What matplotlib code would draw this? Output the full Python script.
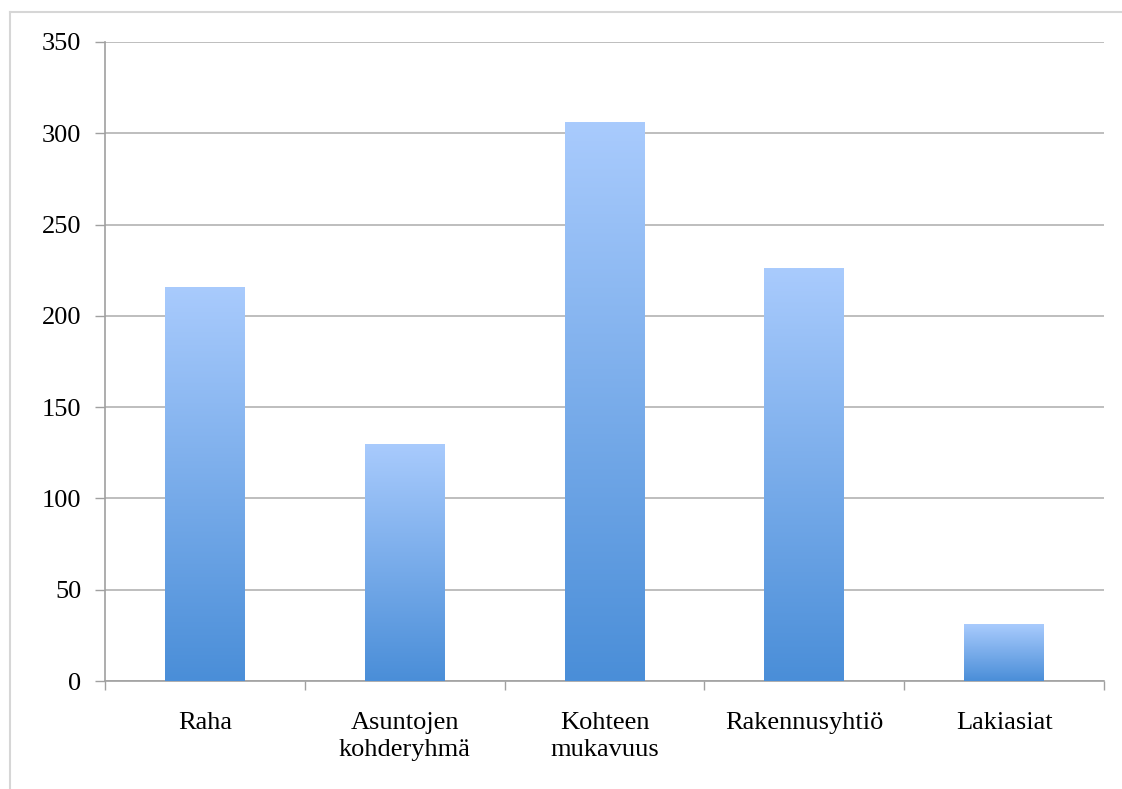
import numpy as np
import matplotlib.pyplot as plt
from matplotlib.colors import LinearSegmentedColormap
from matplotlib.lines import Line2D

# Data
kategoriat = ['Raha', 'Asuntojen\nkohderyhmä', 'Kohteen\nmukavuus', 'Rakennusyhtiö', 'Lakiasiat']
arvot = [216, 130, 306, 226, 31]
y_ticks = [0, 50, 100, 150, 200, 250, 300, 350]

plt.rcParams['font.family'] = ['Liberation Serif', 'DejaVu Serif']

fig = plt.figure(figsize=(11.22, 7.89), dpi=100)
ax = fig.add_axes([105 / 1122, 1 - 681 / 789, 999 / 1122, 639 / 789])

x = np.arange(len(kategoriat))
bars = ax.bar(x, arvot, width=0.4, color='none', edgecolor='none', zorder=3)

# gradient fill for each bar (dark at bottom, light at top)
cmap = LinearSegmentedColormap.from_list('grad', ['#4a8ed8', '#a9cbfd'])
grad = np.linspace(0, 1, 256).reshape(-1, 1)
for b in bars:
    x0, w, h = b.get_x(), b.get_width(), b.get_height()
    im = ax.imshow(grad, cmap=cmap, origin='lower', aspect='auto',
                   extent=[x0, x0 + w, 0, h], zorder=3)
    im.set_clip_path(b)

ax.set_xlim(-0.5, len(kategoriat) - 0.5)
ax.set_ylim(0, 350)
ax.set_yticks(y_ticks)
ax.yaxis.grid(True, color='#b3b3b3', linewidth=1.2, zorder=0)
ax.set_axisbelow(True)

ax.set_xticks(x)
ax.set_xticklabels(kategoriat, fontsize=19, linespacing=1.3, va='top')
ax.set_xticks(np.arange(-0.5, len(kategoriat)), minor=True)
ax.tick_params(axis='x', which='major', length=0, pad=22)
ax.tick_params(axis='x', which='minor', length=6.5, color='#a0a0a0', width=1)
ax.tick_params(axis='y', length=7, color='#a0a0a0', width=1, labelsize=19, pad=10)

for s in ['top', 'right']:
    ax.spines[s].set_visible(False)
for s in ['left', 'bottom']:
    ax.spines[s].set_color('#a0a0a0')
    ax.spines[s].set_linewidth(1.2)

# light frame around the chart area (top and left edges)
fig.add_artist(Line2D([10 / 1122, 1], [1 - 12 / 789, 1 - 12 / 789],
                      transform=fig.transFigure, color='#d6d6d6', linewidth=1.5))
fig.add_artist(Line2D([10 / 1122, 10 / 1122], [0, 1 - 12 / 789],
                      transform=fig.transFigure, color='#d6d6d6', linewidth=1.5))

fig.savefig('out.png', dpi=100)
